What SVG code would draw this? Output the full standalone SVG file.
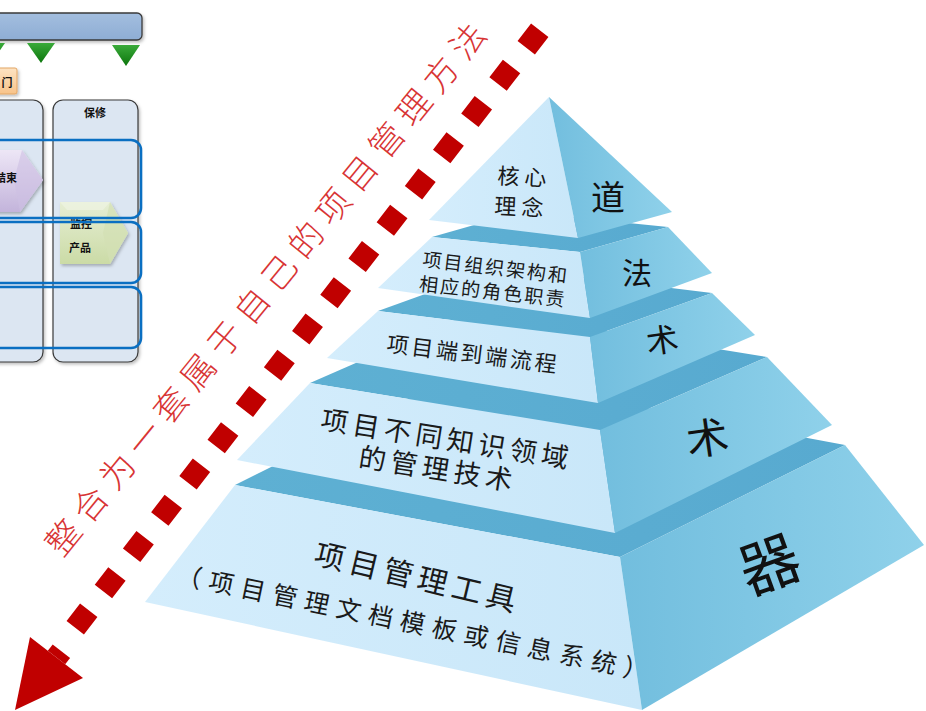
<svg xmlns="http://www.w3.org/2000/svg" width="926" height="711" viewBox="0 0 926 711">
<defs>
  <linearGradient id="gFront" x1="0" y1="0" x2="1" y2="0">
    <stop offset="0" stop-color="#d4edfc"/>
    <stop offset="1" stop-color="#c9e7f9"/>
  </linearGradient>
  <linearGradient id="gSide" x1="0" y1="0" x2="1" y2="0">
    <stop offset="0" stop-color="#72bede"/>
    <stop offset="1" stop-color="#8fd1ea"/>
  </linearGradient>
  <linearGradient id="gBand" x1="0" y1="0" x2="1" y2="0">
    <stop offset="0" stop-color="#5eb0d3"/>
    <stop offset="1" stop-color="#58aad0"/>
  </linearGradient>
  <linearGradient id="gGreen" x1="0" y1="0" x2="0" y2="1">
    <stop offset="0" stop-color="#3aaa3a"/>
    <stop offset="1" stop-color="#0c760c"/>
  </linearGradient>
  <linearGradient id="gPurple" x1="0" y1="0" x2="0" y2="1">
    <stop offset="0" stop-color="#ede6f6"/>
    <stop offset="1" stop-color="#c3b4db"/>
  </linearGradient>
  <linearGradient id="gLime" x1="0" y1="0" x2="0" y2="1">
    <stop offset="0" stop-color="#e6eed4"/>
    <stop offset="1" stop-color="#cbdba6"/>
  </linearGradient>
  <linearGradient id="gOrange" x1="0" y1="0" x2="0" y2="1">
    <stop offset="0" stop-color="#fde3c3"/>
    <stop offset="1" stop-color="#f8c389"/>
  </linearGradient>
  <linearGradient id="gBar" x1="0" y1="0" x2="0" y2="1">
    <stop offset="0" stop-color="#a3bedf"/>
    <stop offset="1" stop-color="#8eadd4"/>
  </linearGradient>
  <filter id="shadow" x="-20%" y="-20%" width="140%" height="140%">
    <feDropShadow dx="1.5" dy="2" stdDeviation="1.5" flood-color="#000" flood-opacity="0.25"/>
  </filter>
</defs>
<style>
  .front{fill:url(#gFront)}
  .side{fill:url(#gSide)}
  .band{fill:url(#gBand)}
  .pt{font-family:"Noto Sans CJK SC","Noto Sans CJK JP",sans-serif;fill:#1a1a1a;text-anchor:middle;dominant-baseline:central}
  .st{font-family:"Noto Sans CJK SC","Noto Sans CJK JP",sans-serif;fill:#111;text-anchor:middle;dominant-baseline:central}
  .lt{font-family:"Noto Sans CJK SC","Noto Sans CJK JP",sans-serif;fill:#111;font-weight:bold;font-size:11px;text-anchor:middle;dominant-baseline:central}
  .lane{fill:#dce6f2;stroke:#3a3a3a;stroke-width:1.2}
  .row{fill:none;stroke:#0a6fc2;stroke-width:2.6}
  .tri{fill:url(#gGreen)}
  .arrow{fill:#c00000}
  .red{font-family:"Noto Sans CJK SC","Noto Sans CJK JP",sans-serif;fill:#d83434;font-weight:300;text-anchor:middle;dominant-baseline:central}
</style>

<rect width="926" height="711" fill="#ffffff"/>

<!-- left partial swimlane diagram -->
<g id="left-diagram">
  <g id="top-bar">
    <rect x="-10" y="13" width="152" height="27" rx="5" fill="url(#gBar)" stroke="#3a3a3a" stroke-width="1.3" filter="url(#shadow)"/>
  </g>
  <g id="milestones">
    <polygon class="tri" points="-23,43 5,43 -9,63"/>
    <polygon class="tri" points="27,43 55,43 41,63"/>
    <polygon class="tri" points="112,45 140,45 126,66"/>
  </g>
  <g id="dept-label">
    <rect x="-20" y="68" width="37" height="26" rx="2" fill="url(#gOrange)" stroke="#e3a664" stroke-width="1" filter="url(#shadow)"/>
    <text class="lt" x="7" y="82" font-size="12">门</text>
  </g>
  <g id="lane-1">
    <rect class="lane" x="-60" y="100" width="103" height="262" rx="10" filter="url(#shadow)"/>
  </g>
  <g id="lane-2">
    <rect class="lane" x="53" y="100" width="85" height="262" rx="10" filter="url(#shadow)"/>
    <text class="lt" x="95" y="112" font-size="12">保修</text>
  </g>
  <g id="step-end">
    <polygon points="-10,150 22,150 43,180 20,212 -10,212" fill="url(#gPurple)" filter="url(#shadow)"/>
    <polygon points="22,150 43,180 20,212 14,180" fill="#cdbfe2" opacity="0.6"/>
    <text class="lt" x="17" y="177" style="text-anchor:end">结束</text>
  </g>
  <g id="step-monitor">
    <polygon points="60,202 110,202 128,233 110,264 60,264" fill="url(#gLime)" filter="url(#shadow)"/>
    <polygon points="110,202 128,233 110,264 103,233" fill="#d3e0b4" opacity="0.7"/>
    <polygon points="60,202 110,202 103,210 67,210" fill="#eef3e2" opacity="0.7"/>
    <text class="lt" x="81" y="223">监控</text>
    <text class="lt" x="80" y="247">产品</text>
  </g>
  <g id="rows">
    <rect class="row" x="-60" y="140" width="201" height="78" rx="10"/>
    <rect class="row" x="-60" y="222" width="201" height="61" rx="10"/>
    <rect class="row" x="-60" y="287" width="201" height="61" rx="10"/>
  </g>
</g>

<!-- red dashed arrow -->
<g id="connectors">
  <line x1="539.75" y1="30.32" x2="75.25" y2="627.68" stroke="#c00000" stroke-width="22" stroke-dasharray="22 23.92"/>
  <polygon class="arrow" points="47.8,650.7 52.7,644.4 70.1,658 65.2,664.3"/>
  <polygon class="arrow" points="30,637 83,678 15,710"/>
</g>

<g id="red-caption">
  <text class="red" x="264" y="288" font-size="34" textLength="674" lengthAdjust="spacing" transform="rotate(-50.8 264 288)">整合为一套属于自己的项目管理方法</text>
</g>

<!-- pyramid, bottom layer first -->
<g id="layer-qi">
  <polygon class="band" points="235,485 620,557 845,445 460,373"/>
  <polygon class="front" points="235,485 620,557 642,710 145,602"/>
  <polygon class="side" points="620,557 845,445 924,545 642,710"/>
  <text class="pt" x="416" y="575" font-size="30" textLength="206" lengthAdjust="spacing" transform="rotate(13.5 416 575)">项目管理工具</text>
  <text class="pt" x="413" y="621" font-size="25" textLength="481" lengthAdjust="spacing" transform="rotate(11.7 413 621)">（项目管理文档模板或信息系统）</text>
  <text class="st" x="768" y="560" font-size="60" transform="rotate(-20 768 560)">器</text>
</g>

<g id="layer-shu-2">
  <polygon class="band" points="310,383 600,430 767,357 477,310"/>
  <polygon class="front" points="310,383 600,430 615,533 237,460"/>
  <polygon class="side" points="600,430 767,357 832,425 615,533"/>
  <text class="pt" x="445" y="437" font-size="27" textLength="250" lengthAdjust="spacing" transform="rotate(9 445 437)">项目不同知识领域</text>
  <text class="pt" x="436" y="467" font-size="27" textLength="155" lengthAdjust="spacing" transform="rotate(9 436 467)">的管理技术</text>
  <text class="st" x="707" y="435" font-size="42" transform="rotate(-8 707 435)">术</text>
</g>

<g id="layer-shu-1">
  <polygon class="band" points="378,311 590,337 712,293 500,267"/>
  <polygon class="front" points="378,311 590,337 598,403 327,358"/>
  <polygon class="side" points="590,337 712,293 755,335 598,403"/>
  <text class="pt" x="472" y="352" font-size="22" textLength="171" lengthAdjust="spacing" transform="rotate(7 472 352)">项目端到端流程</text>
  <text class="st" x="662" y="338" font-size="32" transform="rotate(-8 662 338)">术</text>
</g>

<g id="layer-fa">
  <polygon class="band" points="432,237 580,252 668,227 520,212"/>
  <polygon class="front" points="432,237 580,252 590,318 378,288"/>
  <polygon class="side" points="580,252 668,227 712,273 590,318"/>
  <text class="pt" x="495" y="266" font-size="19" textLength="145" lengthAdjust="spacing" transform="rotate(6.7 495 266)">项目组织架构和</text>
  <text class="pt" x="492" y="290" font-size="19" textLength="146" lengthAdjust="spacing" transform="rotate(6.3 492 290)">相应的角色职责</text>
  <text class="st" x="637" y="271" font-size="30">法</text>
</g>

<g id="layer-dao">
  <polygon class="front" points="549,97 578,238 429,220"/>
  <polygon class="side" points="549,97 672,212 578,238"/>
  <text class="pt" x="522" y="175" font-size="22" textLength="49" lengthAdjust="spacing" transform="rotate(3 522 175)">核心</text>
  <text class="pt" x="519" y="205" font-size="22" textLength="49" lengthAdjust="spacing" transform="rotate(3 519 205)">理念</text>
  <text class="st" x="608" y="195" font-size="34">道</text>
</g>
</svg>
